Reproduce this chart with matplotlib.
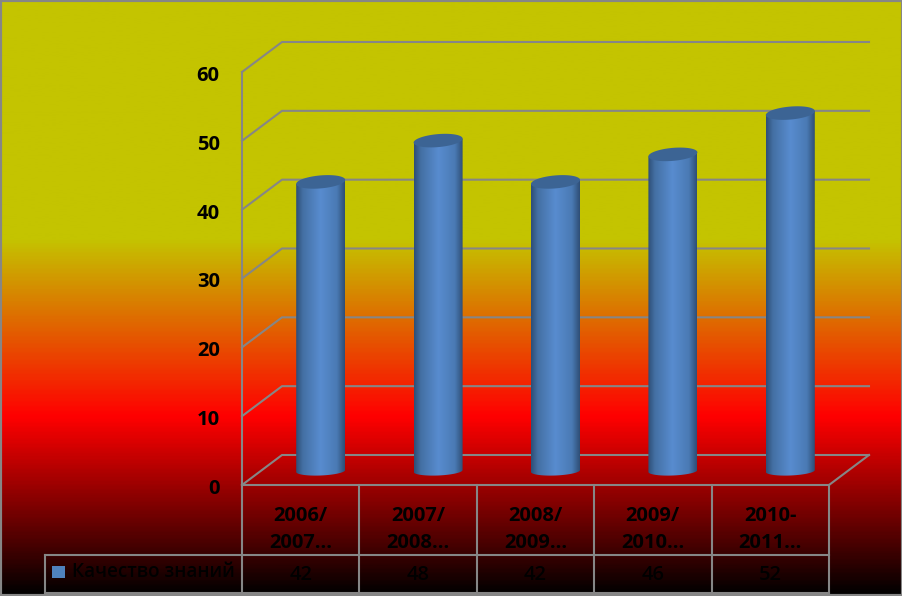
#!/usr/bin/env python3
"""3D-style cylinder chart with a data table under it, on a yellow-red-black background."""
import numpy as np
import matplotlib
matplotlib.use("Agg")
import matplotlib.pyplot as plt
from matplotlib.colors import LinearSegmentedColormap
from matplotlib.patches import PathPatch, Rectangle
from matplotlib.path import Path

categories = ["2006/\n2007...", "2007/\n2008...", "2008/\n2009...", "2009/\n2010...", "2010-\n2011..."]
values = [42, 48, 42, 46, 52]
series_name = "Качество знаний"
yticks = [0, 10, 20, 30, 40, 50, 60]

W, H = 903, 596
LINE = "#868686"
FS = 14.5
plt.rcParams["font.family"] = ["Open Sans", "DejaVu Sans"]

fig = plt.figure(figsize=(W / 100, H / 100), dpi=100)

# background gradient
bg = fig.add_axes([0, 0, 1, 1], zorder=0)
bg_cmap = LinearSegmentedColormap.from_list(
    "bg", [(0, "#c4c400"), (0.40, "#c4c400"), (0.70, "#ff0000"), (1, "#000000")])
bg.imshow(np.linspace(0, 1, 400)[:, None], cmap=bg_cmap, aspect="auto", extent=[0, 1, 0, 1])
bg.set_axis_off()

# chart axes = front plane of the 3D box
x0, x1, y0, y60 = 242, 829, 485, 72
ax = fig.add_axes([x0 / W, 1 - y0 / H, (x1 - x0) / W, (y0 - y60) / H], zorder=1)
ax.patch.set_alpha(0)
ax.set_axis_off()
n = len(categories)
px_x = (x1 - x0) / n
px_y = (y0 - y60) / 60
dx, dy = 40 / px_x, 30 / px_y     # depth of the box, in data units

# walls and grid
for t in yticks:
    ax.plot([0, dx, n + dx], [t, t + dy, t + dy], color=LINE, lw=1.5, clip_on=False, zorder=1)
    ax.text(-0.19, t - 0.58, str(t), ha="right", va="center", fontsize=FS, fontweight="bold",
            color="black", clip_on=False)
ax.plot([0, 0], [0, 60], color=LINE, lw=1.5, clip_on=False, zorder=1)
ax.plot([n, n + dx], [0, dy], color=LINE, lw=1.5, clip_on=False, zorder=1)

# cylinders
side = LinearSegmentedColormap.from_list(
    "side", [(0, "#2f4f77"), (0.14, "#4470a4"), (0.5, "#588ccf"), (0.84, "#4a7ab4"), (1, "#2f4f77")])
hw, hh, hh_low, tilt = 24.5 / px_x, 6.5 / px_y, 4.5 / px_y, 2 / px_y
a = np.linspace(0, 2 * np.pi, 90)
base = 14 / px_y
for i, v in enumerate(values):
    cx = i + 0.5 + dx / 2
    top = base + v
    low = np.linspace(np.pi, 2 * np.pi, 40)
    bx = cx + hw * np.cos(low)
    by = base + hh_low * np.sin(low) + tilt * np.cos(low) / 2
    verts = [(cx - hw, top - tilt)] + list(zip(bx, by)) + [(cx + hw, top + tilt)]
    clip = PathPatch(Path(verts + [verts[0]], closed=True), transform=ax.transData, fc="none", ec="none")
    ax.add_patch(clip)
    im = ax.imshow(np.linspace(0, 1, 100)[None, :], cmap=side, aspect="auto",
                   extent=[cx - hw, cx + hw, base - 2, top + 1], zorder=3, interpolation="bilinear")
    im.set_clip_path(clip)
    ax.fill(cx + hw * np.cos(a), top + hh * np.sin(a) + tilt * np.cos(a),
            color="#3c6494", zorder=4, clip_on=False, lw=0)

ax.set_xlim(0, n)
ax.set_ylim(0, 60)

# data table under the plot
row1, row2 = -70 / px_y, -108 / px_y
leg_left = -197 / px_x
for k in range(n + 1):
    ax.plot([k, k], [0, row2], color=LINE, lw=1.5, clip_on=False, zorder=2)
ax.plot([0, n], [0, 0], color=LINE, lw=1.5, clip_on=False, zorder=2)
ax.plot([leg_left, n], [row1, row1], color=LINE, lw=1.5, clip_on=False, zorder=2)
ax.plot([leg_left, n], [row2, row2], color=LINE, lw=1.5, clip_on=False, zorder=2)
ax.plot([leg_left, leg_left], [row1, row2], color=LINE, lw=1.5, clip_on=False, zorder=2)
for k, (c, v) in enumerate(zip(categories, values)):
    ax.text(k + 0.5, row1 / 2 - 1.4, c, ha="center", va="center", fontsize=FS, fontweight="bold",
            color="black", linespacing=1.48, clip_on=False)
    ax.text(k + 0.5, (row1 + row2) / 2 - 0.15, str(v), ha="center", va="center", fontsize=FS,
            fontweight="semibold", color="black", clip_on=False)

fig.add_artist(Rectangle((52 / W, 1 - 578 / H), 13 / W, 12 / H, transform=fig.transFigure,
                         fc="#4f81bd", ec="none", zorder=5))
fig.text(72 / W, 1 - 572 / H, series_name, ha="left", va="center", fontsize=13.6,
         fontweight="semibold", color="black", zorder=5)

# outer frame
fig.add_artist(Rectangle((0, 0), 1, 1, transform=fig.transFigure, fc="none", ec=LINE, lw=3, zorder=6))

fig.savefig("out.png", dpi=100)
